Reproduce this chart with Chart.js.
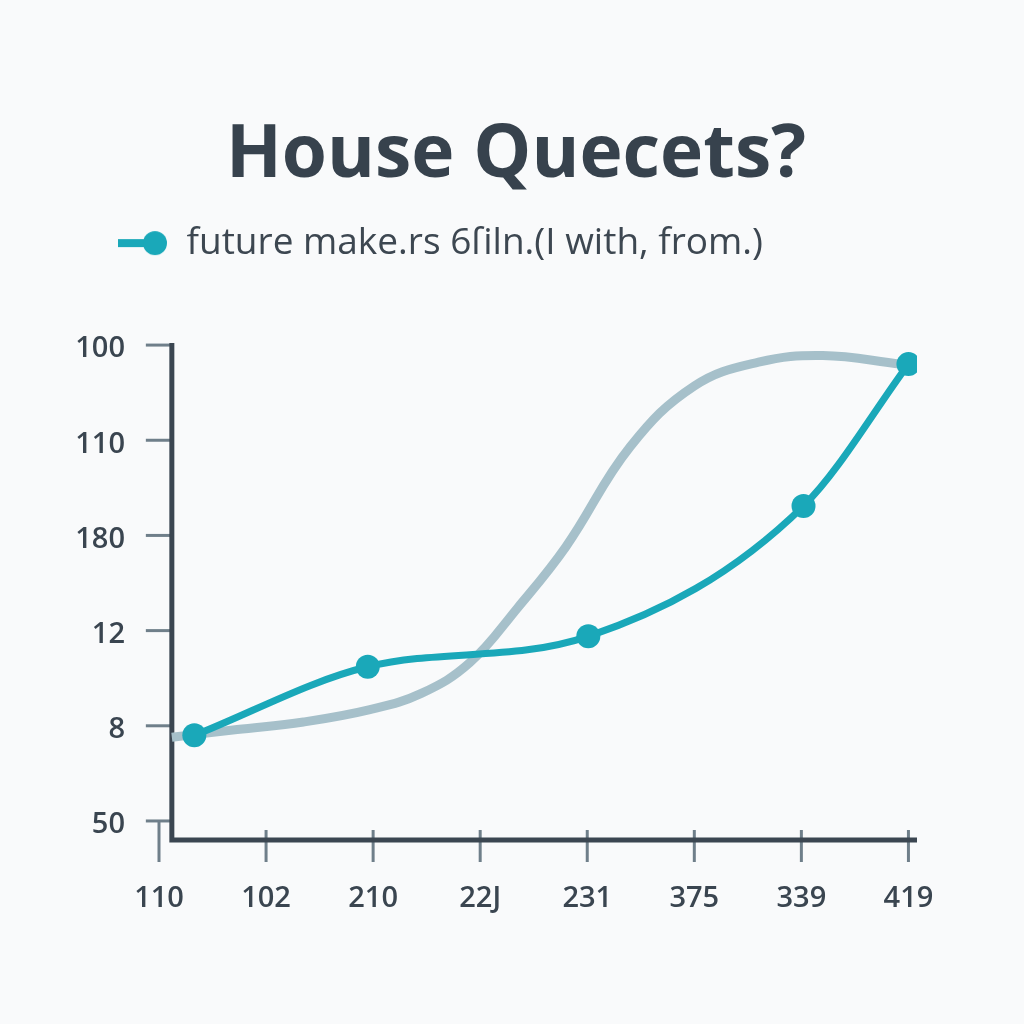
<!DOCTYPE html>
<html>
<head>
<meta charset="utf-8">
<script src="https://cdn.jsdelivr.net/npm/chart.js@4.4.0/dist/chart.umd.min.js"></script>
<style>
html,body{margin:0;padding:0;background:#f9fafb;}
#wrap{width:1024px;height:1024px;}
</style>
</head>
<body>
<div id="wrap"><canvas id="c" width="1024" height="1024"></canvas></div>
<script>
const titleText = 'House Quecets?';
const legendText = 'future make.rs 6ſiln.(I with, from.)';
const xTickLabels = ['110', '102', '210', '22J', '231', '375', '339', '419'];
const yTickLabels = ['50', '8', '12', '180', '110', '100'];
const tealX = [0.33, 1.95, 4.01, 6.02, 7.0];
const tealY = [0.90, 1.62, 1.94, 3.31, 4.80];
const greyX = [0.12, 0.73, 1.35, 1.97, 2.45, 2.90, 3.35, 3.80, 4.40, 5.00, 5.60, 6.20, 6.93];
const greyY = [0.88, 0.96, 1.04, 1.17, 1.34, 1.66, 2.24, 2.88, 3.93, 4.57, 4.82, 4.89, 4.80];

const TEAL = '#1aa8b9';
const GREY = '#a6c0ca';
const AXIS = '#3b4651';
const TICK = '#6f7f8a';
const TEXT = '#3a4550';
const Y_AXIS_AT = 0.12;

// legend marker: short line with a dot, drawn into a small canvas
const mk = document.createElement('canvas');
mk.width = 98; mk.height = 26;
const m = mk.getContext('2d');
m.strokeStyle = TEAL; m.lineWidth = 8;
m.beginPath(); m.moveTo(48, 13); m.lineTo(84, 13); m.stroke();
m.fillStyle = TEAL;
m.beginPath(); m.arc(85, 13, 12, 0, Math.PI * 2); m.fill();

const axesPlugin = {
  id: 'axesPlugin',
  beforeDatasetsDraw(chart) {
    const ctx = chart.ctx;
    const x = chart.scales.x, y = chart.scales.y;
    const ax = x.getPixelForValue(Y_AXIS_AT);
    const ay = y.bottom;
    ctx.save();
    ctx.strokeStyle = TICK;
    ctx.lineWidth = 3;
    y.ticks.forEach(t => {
      const py = y.getPixelForValue(t.value);
      ctx.beginPath(); ctx.moveTo(ax - 26, py); ctx.lineTo(ax, py); ctx.stroke();
    });
    x.ticks.forEach((t, i) => {
      const px = x.getPixelForValue(t.value);
      const top = i === 0 ? y.getPixelForValue(0) : ay - 10;
      ctx.beginPath(); ctx.moveTo(px, top); ctx.lineTo(px, ay + 22); ctx.stroke();
    });
    ctx.strokeStyle = AXIS;
    ctx.lineWidth = 5;
    ctx.beginPath();
    ctx.moveTo(ax, y.getPixelForValue(5) - 2);
    ctx.lineTo(ax, ay);
    ctx.lineTo(x.right, ay);
    ctx.stroke();
    ctx.restore();
  }
};

new Chart(document.getElementById('c'), {
  type: 'line',
  data: {
    datasets: [
      {
        label: legendText,
        data: tealX.map((v, i) => ({x: v, y: tealY[i]})),
        borderColor: TEAL,
        backgroundColor: TEAL,
        borderWidth: 7,
        pointRadius: 12,
        pointBackgroundColor: TEAL,
        pointBorderWidth: 0,
        cubicInterpolationMode: 'monotone'
      },
      {
        label: 'reference',
        data: greyX.map((v, i) => ({x: v, y: greyY[i]})),
        borderColor: GREY,
        borderWidth: 9,
        pointRadius: 0,
        tension: 0.4
      }
    ]
  },
  options: {
    responsive: false,
    devicePixelRatio: 1,
    animation: false,
    layout: {padding: {left: 60, right: 52, top: 0, bottom: 0}},
    plugins: {
      tooltip: {enabled: false},
      title: {
        display: true,
        text: titleText,
        color: '#37424d',
        font: {family: 'Open Sans', size: 73, weight: 'bold'},
        padding: {top: 112, bottom: 15}
      },
      legend: {
        display: true,
        position: 'top',
        align: 'start',
        labels: {
          usePointStyle: true,
          pointStyle: mk,
          pointStyleWidth: 98,
          boxHeight: 26,
          padding: 10,
          color: '#3d4751',
          font: {family: 'Open Sans', size: 37},
          filter: item => item.datasetIndex === 0
        }
      }
    },
    scales: {
      x: {
        type: 'linear',
        min: 0,
        max: 7.08,
        afterBuildTicks: s => { s.ticks = xTickLabels.map((_, i) => ({value: i})); },
        afterFit: s => { s.height = 184; },
        ticks: {
          callback: v => xTickLabels[v],
          color: TEXT,
          font: {family: 'Open Sans', size: 29, weight: '600'},
          padding: 41,
          maxRotation: 0,
          autoSkip: false
        },
        grid: {display: false, drawTicks: false},
        border: {display: false}
      },
      y: {
        type: 'linear',
        min: -0.2,
        max: 5.772,
        afterBuildTicks: s => { s.ticks = yTickLabels.map((_, i) => ({value: i})); },
        afterFit: s => { s.width = 99; },
        ticks: {
          callback: v => yTickLabels[v],
          color: TEXT,
          font: {family: 'Open Sans', size: 29, weight: '600'},
          padding: 34,
          labelOffset: 4,
          autoSkip: false
        },
        grid: {display: false, drawTicks: false},
        border: {display: false}
      },
      yRight: {
        type: 'linear',
        position: 'right',
        display: true,
        afterFit: s => { s.width = 55; },
        ticks: {display: false},
        grid: {display: false, drawTicks: false},
        border: {display: false}
      }
    }
  },
  plugins: [axesPlugin]
});
</script>
</body>
</html>
